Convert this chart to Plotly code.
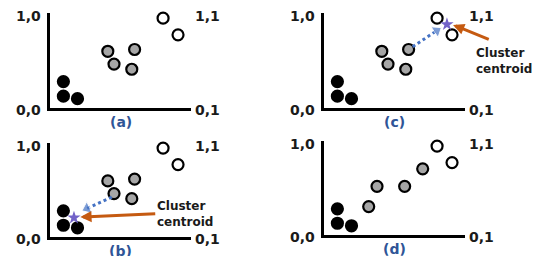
import plotly.graph_objects as go

# ---------------- data (normalized axis units, 0..1) ----------------
panel_names = ["(a)", "(c)", "(b)", "(d)"]
corner_labels = ["1,0", "0,0", "1,1", "0,1"]

black_x = [0.095, 0.095, 0.195]
black_y = [0.278, 0.125, 0.098]

gray_x_abc = [0.410, 0.600, 0.454, 0.580]
gray_y_abc = [0.597, 0.616, 0.462, 0.408]

gray_x_d = [0.317, 0.376, 0.572, 0.700]
gray_y_d = [0.302, 0.518, 0.518, 0.704]

white_x = [0.802, 0.908]
white_y = [0.946, 0.770]

centroid_b_x = [0.170]
centroid_b_y = [0.205]
centroid_c_x = [0.872]
centroid_c_y = [0.881]

move_b_x = [0.438, 0.262]
move_b_y = [0.424, 0.303]
move_c_x = [0.629, 0.800]
move_c_y = [0.645, 0.815]

pointer_b = dict(tail_x=0.757, tail_y=0.247, tip_x=0.215, tip_y=0.212)
pointer_c = dict(tail_x=1.179, tail_y=0.716, tip_x=0.915, tip_y=0.875)
centroid_text_px = {"(b)": (185, 214), "(c)": (504, 60.5)}

# ---------------- layout geometry (pixels) ----------------
W, H = 544, 256
boxes = {  # x0, x1, ytop, ybottom
    "(a)": (50, 191, 13, 108),
    "(c)": (324, 465, 13, 108),
    "(b)": (50, 191, 143, 237),
    "(d)": (324, 465, 141, 235),
}

TXT = "#1a1a1a"
BLUE_LBL = "#2f5597"
GRAY = "#a6a6a6"
ARROW_BLUE = "#4472c4"
ORANGE = "#c55a11"
STAR = "#7262c8"
FONT = "DejaVu Sans"

fig = go.Figure()
layout = dict(
    width=W, height=H, margin=dict(l=0, r=0, t=0, b=0),
    paper_bgcolor="white", plot_bgcolor="rgba(0,0,0,0)",
    showlegend=False, annotations=[],
)


def px(x):
    return x / W


def py(y):
    return 1 - y / H


def circles(xs, ys, fill, xa, ya):
    fig.add_trace(go.Scatter(
        x=xs, y=ys, mode="markers", xaxis=xa, yaxis=ya, cliponaxis=False,
        marker=dict(size=11, color=fill, line=dict(color="black", width=2.2)),
        hoverinfo="skip"))


for i, name in enumerate(panel_names):
    n = "" if i == 0 else str(i + 1)
    xa, ya = "x" + n, "y" + n
    x0, x1, yt, yb = boxes[name]
    common = dict(range=[0, 1], showgrid=False, zeroline=False, showticklabels=False,
                  ticks="", showline=True, linecolor="black", linewidth=3, fixedrange=True)
    layout["xaxis" + n] = dict(common, domain=[px(x0), px(x1)], anchor=ya)
    layout["yaxis" + n] = dict(common, domain=[py(yb), py(yt)], anchor=xa)

    # corner labels
    spots = [(x0 - 22, yt + 3), (x0 - 22, yb + 2), (x1 + 16, yt + 3), (x1 + 16, yb + 2)]
    for lab, (sx, sy) in zip(corner_labels, spots):
        layout["annotations"].append(dict(
            text="<b>" + lab + "</b>", x=px(sx), y=py(sy), xref="paper", yref="paper",
            xanchor="center", yanchor="middle", showarrow=False,
            font=dict(family=FONT, size=14, color=TXT)))
    layout["annotations"].append(dict(
        text="<b>" + name + "</b>", x=px((x0 + x1) / 2), y=py(yb + 14), xref="paper", yref="paper",
        xanchor="center", yanchor="middle", showarrow=False,
        font=dict(family=FONT, size=14, color=BLUE_LBL)))

    # points
    circles(black_x, black_y, "black", xa, ya)
    if name == "(d)":
        circles(gray_x_d, gray_y_d, GRAY, xa, ya)
    else:
        circles(gray_x_abc, gray_y_abc, GRAY, xa, ya)
    circles(white_x, white_y, "white", xa, ya)

    if name in ("(b)", "(c)"):
        mx, my = (move_b_x, move_b_y) if name == "(b)" else (move_c_x, move_c_y)
        fig.add_trace(go.Scatter(
            x=mx, y=my, mode="lines+markers", xaxis=xa, yaxis=ya, cliponaxis=False,
            line=dict(color=ARROW_BLUE, width=3, dash="dot"),
            marker=dict(symbol="triangle-up", size=[0, 11], angleref="previous",
                        color=ARROW_BLUE),
            hoverinfo="skip"))
        cx, cy = (centroid_b_x, centroid_b_y) if name == "(b)" else (centroid_c_x, centroid_c_y)
        fig.add_trace(go.Scatter(
            x=cx, y=cy, mode="markers", xaxis=xa, yaxis=ya, cliponaxis=False,
            marker=dict(symbol="star", size=10, color=STAR), hoverinfo="skip"))
        p = pointer_b if name == "(b)" else pointer_c
        layout["annotations"].append(dict(
            x=p["tip_x"], y=p["tip_y"], ax=p["tail_x"], ay=p["tail_y"],
            xref=xa, yref=ya, axref=xa, ayref=ya, text="", showarrow=True,
            arrowhead=2, arrowsize=0.75, arrowwidth=3, arrowcolor=ORANGE))
        tx, ty = centroid_text_px[name]
        layout["annotations"].append(dict(
            x=px(tx), y=py(ty), xref="paper", yref="paper", showarrow=False,
            text="<b>Cluster<br>centroid</b>", align="left",
            xanchor="center", yanchor="middle",
            font=dict(family=FONT, size=12, color=TXT)))

fig.update_layout(**layout)
fig.write_html("out.html", config={"displayModeBar": False, "staticPlot": True},
               post_script="document.body.style.margin='0';")
